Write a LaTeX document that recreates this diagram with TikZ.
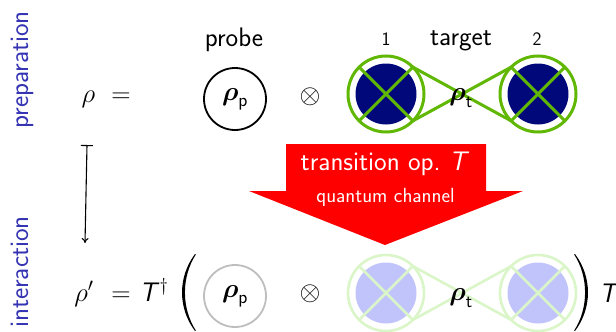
\RequirePackage{fix-cm}
\documentclass[tikz,border=0pt]{standalone}
\usepackage{amsmath}
\usetikzlibrary{arrows.meta,calc}
\definecolor{struct}{RGB}{51,51,179}
\definecolor{tgreen}{RGB}{96,184,4}
\definecolor{tnavy}{RGB}{0,8,122}
\definecolor{lgreen}{RGB}{218,245,200}
\definecolor{lblue}{RGB}{192,196,250}
\definecolor{lgray}{RGB}{190,190,190}
\newcommand\tgtpair[4]{%
  \fill[#4] (386,#1) circle (30.5);
  \fill[#4] (538,#1) circle (30.5);
  \draw[#3, line width=#2] (386,#1) circle (38);
  \draw[#3, line width=#2] (538,#1) circle (38);
  \draw[#3, line width=#2] (386,#1) ++(45:38) -- ++(225:76);
  \draw[#3, line width=#2] (386,#1) ++(135:38) -- ++(-45:76);
  \draw[#3, line width=#2] (538,#1) ++(45:38) -- ++(225:76);
  \draw[#3, line width=#2] (538,#1) ++(135:38) -- ++(-45:76);
  \draw[#3, line width=#2] (386,#1) ++(45:38) -- ($(538,#1)+(225:38)$);
  \draw[#3, line width=#2] (386,#1) ++(-45:38) -- ($(538,#1)+(135:38)$);
}
\begin{document}
\begin{tikzpicture}[x=1pt,y=-1pt,
  font=\fontsize{26.8}{32}\selectfont\sffamily,
  txt/.style={inner sep=0pt, anchor=base},
  side/.style={txt, rotate=90, text=struct},
  small/.style={txt, font=\fontsize{19}{22}\selectfont\sffamily},
  probecirc/.style={circle, draw, minimum size=62pt, inner sep=0pt, line width=1.8pt}]
\useasboundingbox (0,0) rectangle (616,332);

% side labels
\node[side] (prep) at (28,70) {preparation};
\node[side] (inter) at (28,272) {interaction};

% top row
\node[txt] (rho) at (88.5,102) {$\rho$};
\node[txt] (eq1) at (121,102) {$=$};
\node[txt] (probe) at (234,46) {probe};
\node[txt] (target) at (461,45) {target};
\node[small] (one) at (386,45) {1};
\node[small] (two) at (537,45) {2};
\node[probecirc, draw=black] (pp) at (235,99) {$\boldsymbol{\rho}_{\mathsf{p}}$};
\node (ot1) at (310,97) {$\otimes$};
\tgtpair{94}{3pt}{tgreen}{tnavy}
\node (rt) at (461,98) {$\boldsymbol{\rho}_{\mathsf{t}}$};

% left arrow
\coordinate (a1) at (87,145);
\coordinate (a2) at (85,243);
\draw[line width=1.1pt, {Bar[width=12pt]}-{To[length=5pt,width=7pt]}] (a1) -- (a2);

% red arrow
\fill[red] (286,144) -- (486,144) -- (486,191) -- (523,191) -- (385,245) -- (249,191) -- (286,191) -- cycle;
\node[txt, text=white] (trans) at (385,170) {transition op.\ \textit{T}};
\node[txt, text=white, font=\fontsize{20.5}{24}\selectfont\sffamily] (chan) at (385.5,202) {quantum channel};

% bottom row
\node[txt] (rho2) at (84,301) {$\rho'$};
\node[txt] (eq2) at (121,301) {$=$};
\node[txt] (tdag) at (154,301) {\textit{T}$^\dagger$};
\fill (195,254) .. controls (177.7,277) and (177.7,308) .. (195,331)
  -- (195.8,330.5) .. controls (181.3,308) and (181.3,277) .. (195.8,254.5) -- cycle;
\fill (575,254) .. controls (592.3,277) and (592.3,308) .. (575,331)
  -- (574.2,330.5) .. controls (588.7,308) and (588.7,277) .. (574.2,254.5) -- cycle;
\node[txt, anchor=base west] (tr) at (599,302) {\textit{T}};
\node[probecirc, draw=lgray] (pp2) at (235,296) {$\boldsymbol{\rho}_{\mathsf{p}}$};
\node (ot2) at (310,294) {$\otimes$};
\tgtpair{293}{2.6pt}{lgreen}{lblue}
\node (rt2) at (461,298) {$\boldsymbol{\rho}_{\mathsf{t}}$};
\end{tikzpicture}
\end{document}
